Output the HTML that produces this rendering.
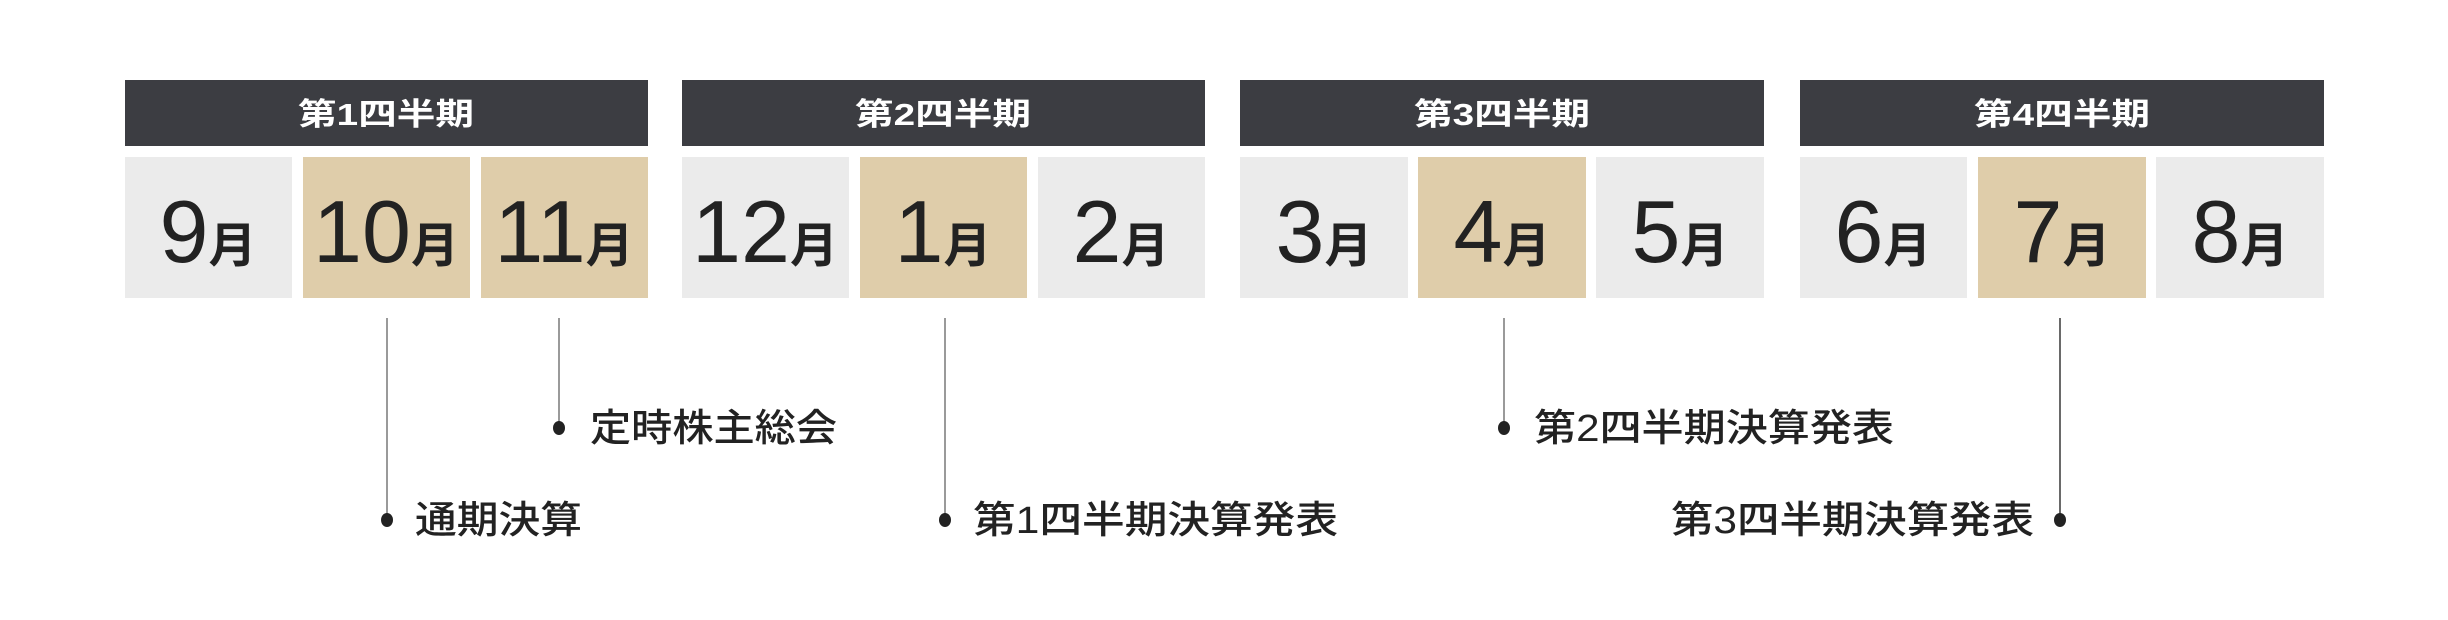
<!DOCTYPE html>
<html><head><meta charset="utf-8"><style>
html,body{margin:0;padding:0;background:#fff;}
svg{display:block;}
.hd{font-family:"Liberation Sans","Noto Sans CJK JP",sans-serif;font-weight:bold;font-size:31px;fill:#fff;}
.mn{font-family:"Liberation Sans","Noto Sans CJK JP",sans-serif;fill:#222;}
.lb{font-family:"Liberation Sans","Noto Sans CJK JP",sans-serif;font-size:38px;fill:#222;font-weight:500;}
</style></head><body>
<svg width="2448" height="620" viewBox="0 0 2448 620" xmlns="http://www.w3.org/2000/svg">
<rect x="125" y="80" width="523" height="66" fill="#3c3d42"/>
<rect x="682" y="80" width="523" height="66" fill="#3c3d42"/>
<rect x="1240" y="80" width="524" height="66" fill="#3c3d42"/>
<rect x="1800" y="80" width="524" height="66" fill="#3c3d42"/>
<text class="hd" x="386" y="125" text-anchor="middle" textLength="176" lengthAdjust="spacingAndGlyphs">第1四半期</text>
<text class="hd" x="943" y="125" text-anchor="middle" textLength="176" lengthAdjust="spacingAndGlyphs">第2四半期</text>
<text class="hd" x="1502" y="125" text-anchor="middle" textLength="176" lengthAdjust="spacingAndGlyphs">第3四半期</text>
<text class="hd" x="2062" y="125" text-anchor="middle" textLength="176" lengthAdjust="spacingAndGlyphs">第4四半期</text>
<g>
<rect x="125" y="157" width="167" height="141" fill="#ebebeb"/>
<rect x="303" y="157" width="167" height="141" fill="#dfcdaa"/>
<rect x="481" y="157" width="167" height="141" fill="#dfcdaa"/>
<rect x="682" y="157" width="167" height="141" fill="#ebebeb"/>
<rect x="860" y="157" width="167" height="141" fill="#dfcdaa"/>
<rect x="1038" y="157" width="167" height="141" fill="#ebebeb"/>
<rect x="1240" y="157" width="168" height="141" fill="#ebebeb"/>
<rect x="1418" y="157" width="168" height="141" fill="#dfcdaa"/>
<rect x="1596" y="157" width="168" height="141" fill="#ebebeb"/>
<rect x="1800" y="157" width="167" height="141" fill="#ebebeb"/>
<rect x="1978" y="157" width="168" height="141" fill="#dfcdaa"/>
<rect x="2156" y="157" width="168" height="141" fill="#ebebeb"/>
</g>
<g class="mn" text-anchor="middle">
<text x="208" y="262"><tspan font-size="88">9</tspan><tspan font-size="48" font-weight="bold">月</tspan></text>
<text x="386" y="262"><tspan font-size="88">10</tspan><tspan font-size="48" font-weight="bold">月</tspan></text>
<text x="564" y="262"><tspan font-size="88">11</tspan><tspan font-size="48" font-weight="bold">月</tspan></text>
<text x="765" y="262"><tspan font-size="88">12</tspan><tspan font-size="48" font-weight="bold">月</tspan></text>
<text x="943" y="262"><tspan font-size="88">1</tspan><tspan font-size="48" font-weight="bold">月</tspan></text>
<text x="1121" y="262"><tspan font-size="88">2</tspan><tspan font-size="48" font-weight="bold">月</tspan></text>
<text x="1324" y="262"><tspan font-size="88">3</tspan><tspan font-size="48" font-weight="bold">月</tspan></text>
<text x="1502" y="262"><tspan font-size="88">4</tspan><tspan font-size="48" font-weight="bold">月</tspan></text>
<text x="1680" y="262"><tspan font-size="88">5</tspan><tspan font-size="48" font-weight="bold">月</tspan></text>
<text x="1883" y="262"><tspan font-size="88">6</tspan><tspan font-size="48" font-weight="bold">月</tspan></text>
<text x="2062" y="262"><tspan font-size="88">7</tspan><tspan font-size="48" font-weight="bold">月</tspan></text>
<text x="2240" y="262"><tspan font-size="88">8</tspan><tspan font-size="48" font-weight="bold">月</tspan></text>
</g>
<g stroke="#808080" stroke-width="1.6">
<line x1="387" y1="318" x2="387" y2="520"/>
<line x1="559" y1="318" x2="559" y2="428"/>
<line x1="945" y1="318" x2="945" y2="520"/>
<line x1="1504" y1="318" x2="1504" y2="428"/>
<line x1="2060" y1="318" x2="2060" y2="520" stroke="#444"/>
</g>
<g fill="#222">
<ellipse cx="387" cy="520" rx="6" ry="7"/>
<ellipse cx="559" cy="428" rx="6" ry="7"/>
<ellipse cx="945" cy="520" rx="6" ry="7"/>
<ellipse cx="1504" cy="428" rx="6" ry="7"/>
<ellipse cx="2060" cy="520" rx="6" ry="7"/>
</g>
<text class="lb" x="590" y="441" textLength="247" lengthAdjust="spacingAndGlyphs">定時株主総会</text>
<text class="lb" x="415" y="533" textLength="167" lengthAdjust="spacingAndGlyphs">通期決算</text>
<text class="lb" x="973" y="533" textLength="365" lengthAdjust="spacingAndGlyphs">第1四半期決算発表</text>
<text class="lb" x="1534" y="441" textLength="360" lengthAdjust="spacingAndGlyphs">第2四半期決算発表</text>
<text class="lb" x="1671" y="533" textLength="363" lengthAdjust="spacingAndGlyphs">第3四半期決算発表</text>
</svg>
</body></html>
